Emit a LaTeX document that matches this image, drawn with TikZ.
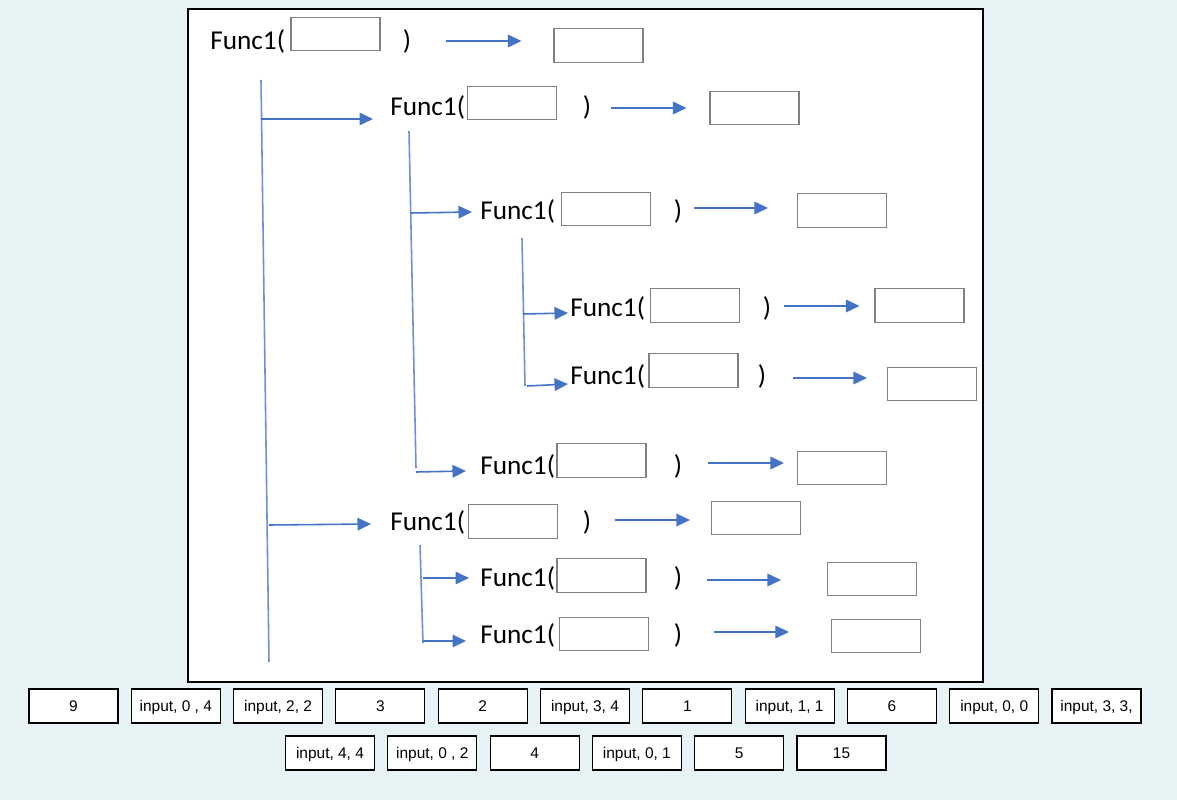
\documentclass[tikz,border=0pt]{standalone}
\usepackage{fontspec}
\setmainfont{Carlito}
\newfontfamily\labelfont{Liberation Sans}
\usetikzlibrary{arrows.meta,calc}
\definecolor{PAGE-BG}{RGB}{230,242,244}
\definecolor{ARROW-BLUE}{RGB}{68,114,196}
\definecolor{TREE-BLUE}{RGB}{110,144,212}
\definecolor{SLOT-GREY}{RGB}{128,128,128}

\begin{document}
\begin{tikzpicture}[x=0.02cm,y=-0.02cm,
  func/.style={anchor=west,inner sep=0pt,font=\fontsize{15.5}{18}\selectfont},
  paren/.style={inner sep=0pt,font=\fontsize{15.5}{18}\selectfont},
  slot/.style={draw=SLOT-GREY,fill=white,line width=0.6pt,inner sep=0pt,
    minimum width=1.78cm,minimum height=0.67cm},
  answer/.style={draw=black,fill=white,line width=0.6pt,inner sep=0pt,
    minimum width=1.78cm,minimum height=0.68cm,text height=1.5ex,text depth=0.3ex,
    font=\labelfont\fontsize{8.8}{10}\selectfont},
  arr/.style={ARROW-BLUE,line width=0.9pt,-{Triangle[length=2.7mm,width=2.5mm]}},
  tree/.style={TREE-BLUE,line width=0.9pt}]
  % background and panel
  \fill[PAGE-BG] (0,0) rectangle (1177,800);
  \useasboundingbox (0,0) rectangle (1177,800);
  \draw[fill=white,line width=0.6pt] (188,9) rectangle (983,682);

  % calls: Func1( [arg] ) -> [result]
  \foreach \i/\fx/\fy/\bx/\by/\px/\rx/\ry/\sg/\eg/\dy in
    {1/210/41/335.5/34/407/598.5/45.5/35/32/0,
     2/390/107/512/103/587/754.5/108/20/23/1,
     3/480/211/606/209/678/842/210.5/12/29/-3,
     4/570/308/695/305.5/767/919.5/305.5/13/15/-2,
     5/570/376/693.5/370.5/762/932/384/27/20/2,
     6/480/466/601.5/460.5/678/842/468/26/13/-3,
     7/390/522/513/521.5/587/756/518/24/21/-2,
     8/480/578/601.5/575.5/678/872/579/25/46/2,
     9/480/635/604/634/678/876/636/32/42/-3}
  {
    \node[func] (f\i) at (\fx,\fy) {Func1(};
    \node[slot] (b\i) at (\bx,\by) {};
    \node[paren] (p\i) at (\px,\fy) {)};
    \node[slot] (r\i) at (\rx,\ry) {};
    \draw[arr] ($(p\i.east)+(\sg,\dy)$) -- ($(r\i.west |- p\i.east)+(-\eg,\dy)$);
  }

  % recursion tree
  \draw[tree] (261,80) coordinate (s1) -- (269,662);
  \draw[tree] (409,131) coordinate (s2) -- (416,468);
  \draw[tree] (522,238) coordinate (s3) -- (525,386);
  \draw[tree] (420,545) coordinate (s4) -- (423,643);
  \draw[arr] (261,119) -- ($(f2.west)+(-17,12)$);
  \draw[arr] (411,213) -- ($(f3.west)+(-8,1)$);
  \draw[arr] (523,314) -- ($(f4.west)+(-2,5)$);
  \draw[arr] (527,386) -- ($(f5.west)+(-2,8)$);
  \draw[arr] (416,472) -- ($(f6.west)+(-14,5)$);
  \draw[arr] (269,525) -- ($(f7.west)+(-19,2)$);
  \draw[arr] (423,578) -- ($(f8.west)+(-11,0)$);
  \draw[arr] (423,641) -- ($(f9.west)+(-14,6)$);

  % answer choices
  \foreach \lbl [count=\k from 0] in {{9},{input, 0 , 4},{input, 2, 2},{3},{2},
      {input, 3, 4},{1},{input, 1, 1},{6},{input, 0, 0},{input, 3, 3,}}
    \node[answer] (ans\k) at (73.5+102.3*\k,706) {\lbl};
  \foreach \lbl [count=\k from 0] in {{input, 4, 4},{input, 0 , 2},{4},
      {input, 0, 1},{5},{15}}
    \node[answer] (low\k) at (330+102.3*\k,753) {\lbl};
\end{tikzpicture}
\end{document}
